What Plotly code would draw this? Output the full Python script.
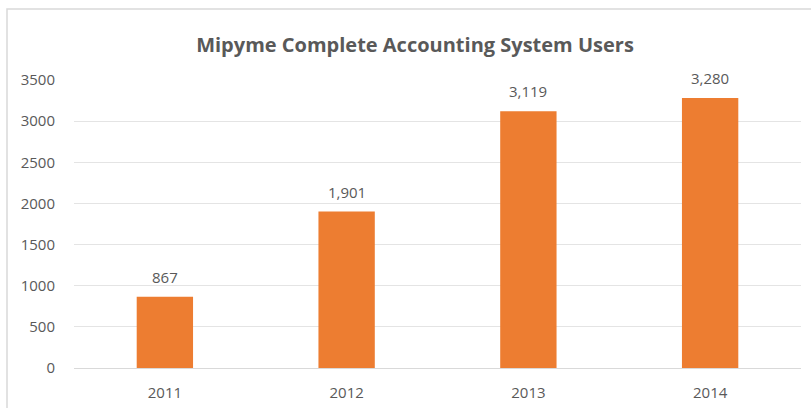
import plotly.graph_objects as go

years = ["2011", "2012", "2013", "2014"]
users = [867, 1901, 3119, 3280]
y_ticks = [0, 500, 1000, 1500, 2000, 2500, 3000, 3500]

W, H = 811, 408
L, R, T, B = 74, 10, 80, 40
plot_w = W - L - R
plot_h = H - T - B

TEXT_GREY = "#595959"
FONT = "Open Sans"

fig = go.Figure(
    go.Bar(
        x=years,
        y=users,
        marker=dict(color="#ED7D31", line=dict(width=0)),
        width=0.31,
        cliponaxis=False,
        hoverinfo="x+y",
    )
)

# value labels above each bar (category axis -> position by index)
for i, v in enumerate(users):
    fig.add_annotation(
        x=i, y=v, xref="x", yref="y",
        text=f"{v:,}", showarrow=False,
        xanchor="center", yanchor="bottom", yshift=8,
        font=dict(family=FONT, size=15, color=TEXT_GREY),
    )

# chart frame (runs off the right and bottom edges)
fig.add_shape(
    type="rect",
    xref="paper", yref="paper",
    x0=(7 - L) / plot_w, x1=(W + 200 - L) / plot_w,
    y0=-(B + 200) / plot_h, y1=(H - B - 9) / plot_h,
    line=dict(color="#D9D9D9", width=1.5),
    layer="below",
)

fig.update_layout(
    width=W, height=H,
    margin=dict(l=L, r=R, t=T, b=B, autoexpand=False),
    paper_bgcolor="white",
    plot_bgcolor="white",
    showlegend=False,
    title=dict(
        text="Mipyme Complete Accounting System Users",
        x=415 / W, xanchor="center",
        y=1 - 45 / H, yanchor="middle",
        font=dict(family=FONT, size=20, color=TEXT_GREY, weight=700),
        automargin=False,
    ),
    xaxis=dict(
        type="category",
        range=[-0.5, len(years) - 0.5],
        automargin=False,
        showgrid=False, showline=False, zeroline=False,
        tickfont=dict(family=FONT, size=15, color=TEXT_GREY),
        ticks="outside", ticklen=11, tickcolor="rgba(0,0,0,0)",
    ),
    yaxis=dict(
        range=[0, 3500],
        automargin=False,
        tickvals=y_ticks,
        ticktext=[str(v) for v in y_ticks],
        showgrid=True, gridcolor="#E4E4E4", gridwidth=1,
        zeroline=True, zerolinecolor="#D9D9D9", zerolinewidth=1,
        showline=False,
        tickfont=dict(family=FONT, size=15, color=TEXT_GREY),
        ticks="outside", ticklen=15, tickcolor="rgba(0,0,0,0)",
    ),
    bargap=0.69,
)

fig.write_html("out.html")
